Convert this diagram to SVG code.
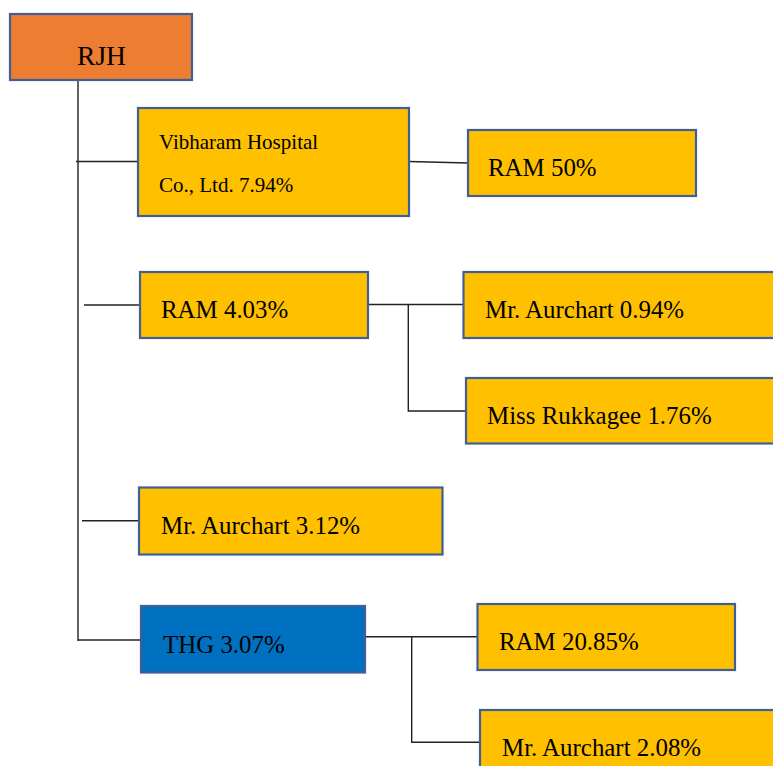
<svg xmlns="http://www.w3.org/2000/svg" width="773" height="766" viewBox="0 0 773 766">
<style>
.box{stroke:#3F5F98;stroke-width:2.2}
.y{fill:#FFC000}
.o{fill:#ED7D31}
.b{fill:#0070C0}
.t{font-family:"Liberation Serif","Times New Roman",serif;font-size:24.9px;fill:#000}
.c{stroke:#222;stroke-width:1.4;fill:none}
</style>
<rect width="773" height="766" fill="#fff"/>
<g id="connectors">
<polyline class="c" points="78,80 78,641"/>
<line class="c" x1="76" y1="161.5" x2="138" y2="161.5"/>
<line class="c" x1="409" y1="161.5" x2="468" y2="163"/>
<line class="c" x1="84" y1="305" x2="140" y2="305"/>
<line class="c" x1="368" y1="304.5" x2="463" y2="304.5"/>
<polyline class="c" points="408.3,304.5 408.3,411 466,411"/>
<line class="c" x1="82" y1="520.7" x2="139" y2="520.7"/>
<line class="c" x1="78" y1="640" x2="141" y2="640"/>
<line class="c" x1="366" y1="636.7" x2="477" y2="636.7"/>
<polyline class="c" points="411.7,636.7 411.7,742.3 480,742.3"/>
</g>
<g id="rjh">
<rect class="box o" x="10" y="14" width="182" height="66"/>
<text class="t" x="101.5" y="65" text-anchor="middle" style="font-size:27.5px">RJH</text>
</g>
<g id="vibharam">
<rect class="box y" x="138" y="108" width="271" height="108"/>
<text class="t" x="159" y="149" style="font-size:21px">Vibharam Hospital</text>
<text class="t" x="159" y="192" style="font-size:21px">Co., Ltd. 7.94%</text>
</g>
<g id="ram50">
<rect class="box y" x="468" y="130" width="228" height="66"/>
<text class="t" x="488" y="176">RAM 50%</text>
</g>
<g id="ram403">
<rect class="box y" x="140" y="272" width="228" height="66"/>
<text class="t" x="161" y="318">RAM 4.03%</text>
</g>
<g id="aurchart094">
<rect class="box y" x="463.5" y="272" width="320" height="66"/>
<text class="t" x="485" y="318">Mr. Aurchart 0.94%</text>
</g>
<g id="rukkagee">
<rect class="box y" x="466" y="378" width="320" height="65.5"/>
<text class="t" x="487" y="424">Miss Rukkagee 1.76%</text>
</g>
<g id="aurchart312">
<rect class="box y" x="139" y="487.5" width="303.5" height="67"/>
<text class="t" x="161" y="534">Mr. Aurchart 3.12%</text>
</g>
<g id="thg">
<rect class="box b" x="141" y="606" width="224" height="66.5"/>
<text class="t" x="163" y="653">THG 3.07%</text>
</g>
<g id="ram2085">
<rect class="box y" x="477.5" y="604" width="257.5" height="66"/>
<text class="t" x="499" y="650">RAM 20.85%</text>
</g>
<g id="aurchart208">
<rect class="box y" x="480" y="710" width="310" height="70"/>
<text class="t" x="502" y="756">Mr. Aurchart 2.08%</text>
</g>
</svg>
